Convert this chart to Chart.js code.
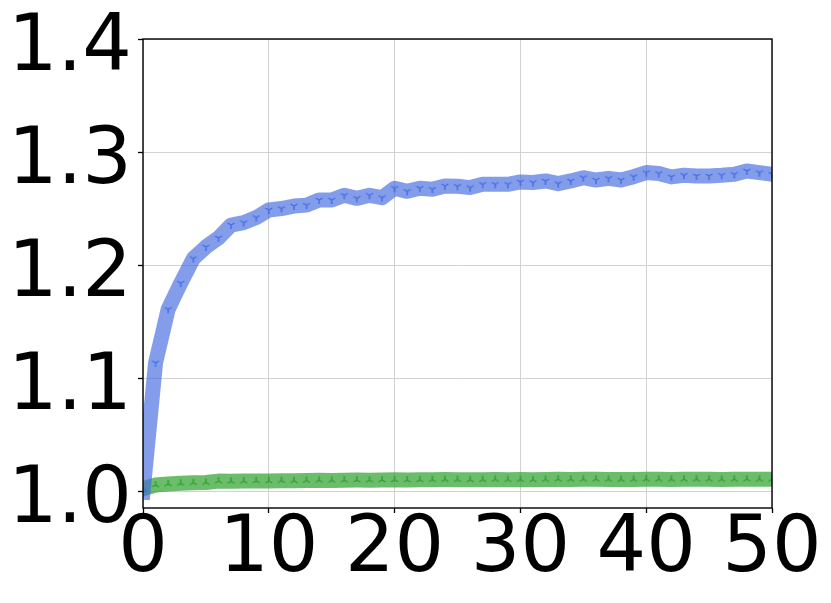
<!DOCTYPE html>
<html>
<head>
<meta charset="utf-8">
<script src="https://cdn.jsdelivr.net/npm/chart.js@4/dist/chart.umd.min.js"></script>
<style>
  html, body { margin: 0; padding: 0; background: #fff; }
  #wrap { width: 831px; height: 603px; }
</style>
</head>
<body>
<div id="wrap"><canvas id="c" width="831" height="603"></canvas></div>
<script>
const xValues = [0,1,2,3,4,5,6,7,8,9,10,11,12,13,14,15,16,17,18,19,20,21,22,23,24,25,26,27,28,29,30,31,32,33,34,35,36,37,38,39,40,41,42,43,44,45,46,47,48,49,50];
const blueValues = [0.999,1.1135,1.1608,1.1840,1.2057,1.2160,1.2240,1.2354,1.2375,1.2420,1.2487,1.2500,1.2522,1.2530,1.2575,1.2575,1.2617,1.2590,1.2617,1.2596,1.2679,1.2652,1.2680,1.2670,1.2700,1.2697,1.2685,1.2714,1.2714,1.2714,1.2735,1.2730,1.2744,1.2720,1.2744,1.2773,1.2752,1.2767,1.2752,1.2782,1.2818,1.2810,1.2780,1.2794,1.2788,1.2788,1.2794,1.2803,1.2832,1.2818,1.2803];
const greenValues = [1.002,1.0053,1.0062,1.0068,1.0074,1.0076,1.0088,1.0086,1.0088,1.0090,1.0090,1.0092,1.0091,1.0093,1.0095,1.0094,1.0096,1.0097,1.0096,1.0098,1.0099,1.0097,1.0099,1.0101,1.0102,1.0101,1.0099,1.0101,1.0103,1.0101,1.0102,1.0100,1.0102,1.0104,1.0103,1.0104,1.0105,1.0103,1.0102,1.0103,1.0105,1.0104,1.0103,1.0104,1.0105,1.0104,1.0103,1.0104,1.0105,1.0104,1.0104];
const xTicks = [0,10,20,30,40,50];
const yTicks = [1.0,1.1,1.2,1.3,1.4];

function triMarker(color, up) {
  const s = 12, c = s / 2, r = 4;
  const cv = document.createElement('canvas');
  cv.width = s; cv.height = s;
  const g = cv.getContext('2d');
  g.strokeStyle = color; g.lineWidth = 1.4; g.lineCap = 'butt';
  const dirs = up ? [[0,-1],[-0.866,0.5],[0.866,0.5]] : [[0,1],[-0.866,-0.5],[0.866,-0.5]];
  g.beginPath();
  dirs.forEach(d => { g.moveTo(c, c); g.lineTo(c + d[0]*r, c + d[1]*r); });
  g.stroke();
  return cv;
}

const frame = {
  id: 'frame',
  afterDatasetsDraw(chart) {
    const a = chart.chartArea, ctx = chart.ctx;
    ctx.save();
    ctx.strokeStyle = '#000'; ctx.lineWidth = 1.4;
    ctx.strokeRect(a.left, a.top, a.right - a.left, a.bottom - a.top);
    ctx.restore();
  }
};

const font = { family: 'DejaVu Sans', size: 78 };

new Chart(document.getElementById('c'), {
  type: 'line',
  data: {
    datasets: [
      {
        data: xValues.map((x, i) => ({ x: x, y: blueValues[i] })),
        borderColor: 'rgba(65,105,225,0.65)',
        borderWidth: 15,
        borderJoinStyle: 'round',
        borderCapStyle: 'square',
        pointStyle: triMarker('rgba(65,105,225,0.95)', false),
        pointRadius: 5,
        pointHoverRadius: 5,
        tension: 0,
        clip: 0
      },
      {
        data: xValues.map((x, i) => ({ x: x, y: greenValues[i] })),
        borderColor: 'rgba(44,160,44,0.7)',
        borderWidth: 15,
        borderJoinStyle: 'round',
        borderCapStyle: 'square',
        pointStyle: triMarker('rgba(44,160,44,0.95)', true),
        pointRadius: 5,
        pointHoverRadius: 5,
        tension: 0,
        clip: 0
      }
    ]
  },
  options: {
    responsive: false,
    animation: false,
    events: [],
    layout: { padding: { left: 0, top: 39, right: 59, bottom: 0 } },
    plugins: { legend: { display: false }, tooltip: { enabled: false }, title: { display: false } },
    scales: {
      x: {
        type: 'linear',
        min: 0, max: 50,
        afterBuildTicks(s) { s.ticks = xTicks.map(v => ({ value: v })); },
        afterFit(s) { s.height = 95; s.paddingLeft = 0; s.paddingRight = 0; },
        grid: { color: '#d2d2d2', lineWidth: 1, drawTicks: true, tickLength: 5, tickColor: '#000', tickWidth: 1.3 },
        border: { display: false },
        ticks: { color: '#000', font: font, padding: -9, maxRotation: 0, autoSkip: false, callback: v => String(v) }
      },
      y: {
        type: 'linear',
        min: 0.985, max: 1.4,
        afterBuildTicks(s) { s.ticks = yTicks.map(v => ({ value: v })); },
        afterFit(s) { s.width = 143; s.paddingTop = 0; s.paddingBottom = 0; },
        grid: { color: '#d2d2d2', lineWidth: 1, drawTicks: true, tickLength: 5, tickColor: '#000', tickWidth: 1.3 },
        border: { display: false },
        ticks: { color: '#000', font: font, padding: 6, labelOffset: 11, autoSkip: false, callback: v => v.toFixed(1) }
      }
    }
  },
  plugins: [frame]
});
</script>
</body>
</html>
